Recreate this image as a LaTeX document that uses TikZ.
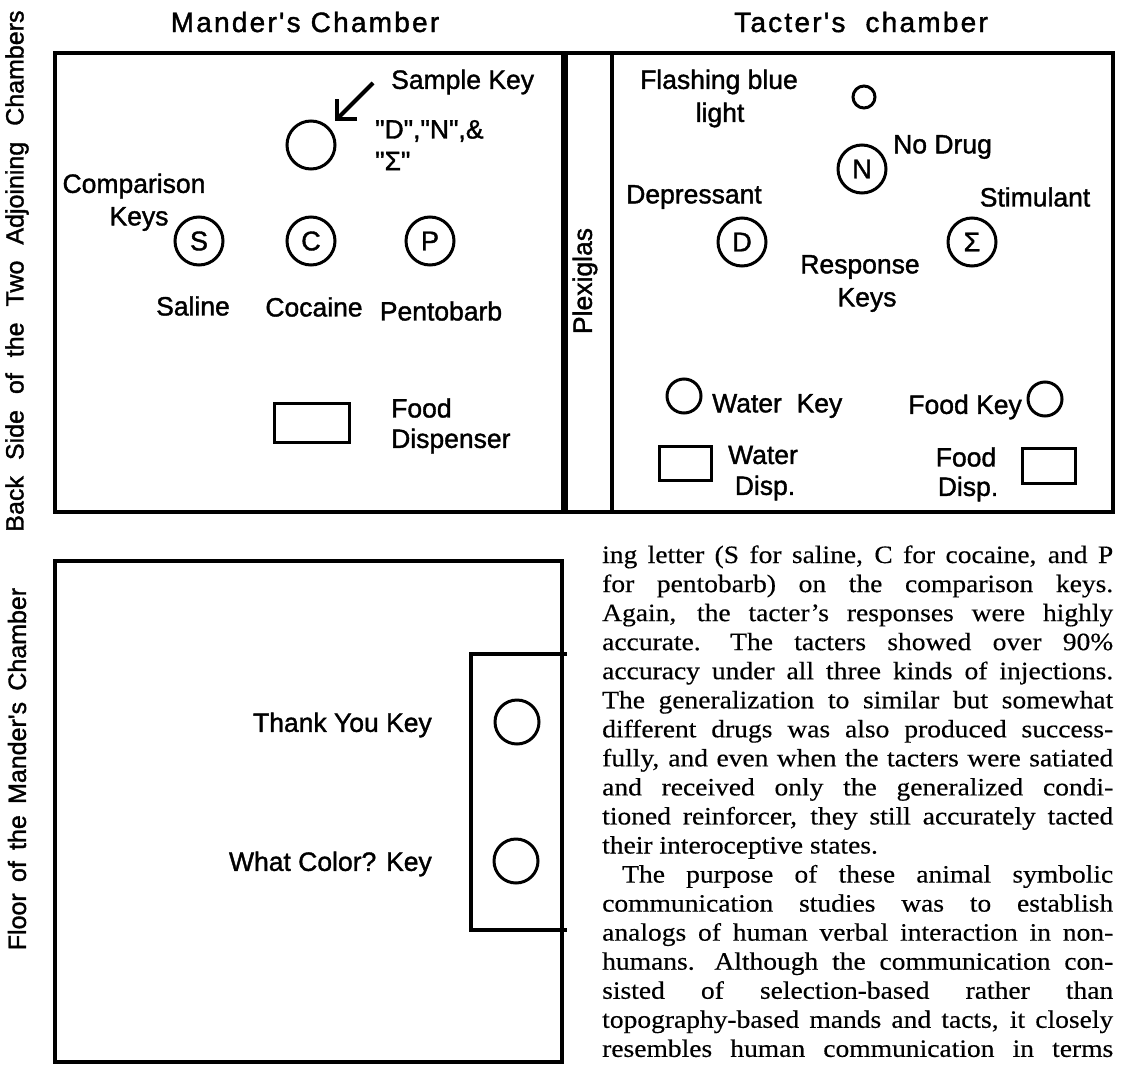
\documentclass[tikz,border=0pt]{standalone}
\usepackage{fontspec}
\newfontfamily\lblfont[FakeBold=1.4]{Liberation Sans}
\newfontfamily\ttlfont[LetterSpace=8,FakeBold=1.4]{Liberation Sans}
\newfontfamily\bodyfont[FakeStretch=1.1,FakeBold=0.4]{Liberation Serif}
\usetikzlibrary{arrows.meta}
\newcommand\jline[1]{\makebox[511pt][s]{\spaceskip=0.25em plus 1fil\xspaceskip=0.4em plus 1.3fil\relax #1}}
\begin{document}
\begin{tikzpicture}[x=1pt,y=-1pt,
  lbl/.style={font=\lblfont\fontsize{26.5}{30}\selectfont, inner sep=0pt, align=center},
  ttl/.style={font=\ttlfont\fontsize{28}{30}\selectfont, inner sep=0pt},
  side/.style={font=\lblfont\fontsize{25}{28}\selectfont, inner sep=0pt, rotate=90},
  wall/.style={draw, line width=3.4pt},
  key/.style={circle, draw, line width=3pt, inner sep=0pt, minimum size=48pt,
    font=\lblfont\fontsize{27}{30}\selectfont},
  smallkey/.style={circle, draw, line width=3pt, inner sep=0pt, minimum size=34pt},
  disp/.style={draw, line width=3pt, inner sep=0pt},
  arr/.style={line width=4pt, -{Straight Barb[length=14pt,width=28pt,line width=4pt]}},
  bline/.style={font=\bodyfont\fontsize{25}{30}\selectfont, inner sep=0pt, anchor=base west}
]
\useasboundingbox (0,0) rectangle (1123,1065);

% titles and side labels
\node[ttl] (tm) at (305,22) {Mander's Chamber};
\node[ttl] (tt) at (861,22) {Tacter's\ \ chamber};
\node[side] (vb) at (17,271) {{\spaceskip=0.64em\relax Back Side of the Two Adjoining Chambers}};
\node[side] (vf) at (17,769) {{\spaceskip=0.45em\relax Floor of the Mander's Chamber}};

% upper walls
\draw[wall] (55,53) rectangle (563,512);
\draw[wall] (566,53) rectangle (1113,512);
\draw[wall] (612,53) -- (612,512);
\node[lbl, rotate=90] (plex) at (585,281) {Plexiglas};

% Mander's chamber
\node[lbl, anchor=west] (skl) at (391,82) {Sample Key};
\node[key] (samp) at (311,145) {};
\coordinate (arrS) at (373,83);
\draw[arr, shorten >=9pt] (arrS) -- (samp.45);
\node[lbl, anchor=west] (dn) at (375,131) {"D","N",\&};
\node[lbl, anchor=west] (sg) at (375,161) {"Σ"};
\node[lbl] (cmp) at (134,186) {Comparison};
\node[lbl] (cky) at (139,219) {Keys};
\node[key] (ks) at (199,241) {S};
\node[key] (kc) at (311,241) {C};
\node[key] (kp) at (430,241) {P};
\node[lbl] (sal) at (193,306) {Saline};
\node[lbl] (coc) at (314,307) {Cocaine};
\node[lbl] (pen) at (441,311) {Pentobarb};
\node[disp, minimum width=75pt, minimum height=39pt] (fd) at (311.5,422.5) {};
\node[lbl, anchor=west] (fdl1) at (391,408) {Food};
\node[lbl, anchor=west] (fdl2) at (391,441) {Dispenser};

% Tacter's chamber
\node[lbl] (fbl1) at (719,82) {Flashing blue};
\node[lbl] (fbl2) at (720,115) {light};
\node[circle, draw, line width=3pt, inner sep=0pt, minimum size=22pt] (fl) at (864,97) {};
\node[key] (kn) at (862,169) {N};
\node[lbl, anchor=west] (nd) at (893,147) {No Drug};
\node[lbl] (dep) at (694,197) {Depressant};
\node[lbl] (sti) at (1035,197) {Stimulant};
\node[key] (kd) at (742,242) {D};
\node[key] (ksg) at (972,242) {Σ};
\node[lbl] (rk1) at (860,267) {Response};
\node[lbl] (rk2) at (867,300) {Keys};
\node[smallkey] (wk) at (684,396) {};
\node[lbl, anchor=west] (wkl) at (712,406) {Water\ \ Key};
\node[lbl, anchor=east] (fkl) at (1022,407) {Food Key};
\node[smallkey] (fk) at (1045,399) {};
\node[disp, minimum width=52pt, minimum height=34pt] (wd) at (685,463) {};
\node[lbl] (wdl1) at (763,455) {Water};
\node[lbl] (wdl2) at (765,488) {Disp.};
\node[lbl] (fdt1) at (966,457) {Food};
\node[lbl] (fdt2) at (968,489) {Disp.};
\node[disp, minimum width=53pt, minimum height=35pt] (fdd) at (1048.5,465.5) {};

% floor of the mander's chamber
\draw[wall] (55,561) rectangle (562,1062);
\draw[wall] (567,654) -- (471,654) -- (471,930) -- (567,930);
\node[key, minimum size=44pt] (ty) at (517,722) {};
\node[key, minimum size=44pt] (wc) at (516,861) {};
\node[lbl, anchor=east] (tyl) at (432,725) {Thank You Key};
\node[lbl, anchor=east] (wcl) at (432,864) {What Color? Key};

% body text
\node[bline] (l1) at (602,563.0) {\jline{ing letter (S for saline, C for cocaine, and P}};
\node[bline] (l2) at (602,592.05) {\jline{for pentobarb) on the comparison keys.}};
\node[bline] (l3) at (602,621.1) {\jline{Again, the tacter’s responses were highly}};
\node[bline] (l4) at (602,650.15) {\jline{accurate. The tacters showed over 90\%}};
\node[bline] (l5) at (602,679.2) {\jline{accuracy under all three kinds of injections.}};
\node[bline] (l6) at (602,708.25) {\jline{The generalization to similar but somewhat}};
\node[bline] (l7) at (602,737.3) {\jline{different drugs was also produced success-}};
\node[bline] (l8) at (602,766.35) {\jline{fully, and even when the tacters were satiated}};
\node[bline] (l9) at (602,795.4) {\jline{and received only the generalized condi-}};
\node[bline] (l10) at (602,824.45) {\jline{tioned reinforcer, they still accurately tacted}};
\node[bline] (l11) at (602,853.5) {their interoceptive states.};
\node[bline] (l12) at (622,882.55) {\makebox[491pt][s]{\spaceskip=0.25em plus 1fil\relax The purpose of these animal symbolic}};
\node[bline] (l13) at (602,911.6) {\jline{communication studies was to establish}};
\node[bline] (l14) at (602,940.65) {\jline{analogs of human verbal interaction in non-}};
\node[bline] (l15) at (602,969.7) {\jline{humans. Although the communication con-}};
\node[bline] (l16) at (602,998.75) {\jline{sisted of selection-based rather than}};
\node[bline] (l17) at (602,1027.8) {\jline{topography-based mands and tacts, it closely}};
\node[bline] (l18) at (602,1056.85) {\jline{resembles human communication in terms}};
\end{tikzpicture}
\end{document}
